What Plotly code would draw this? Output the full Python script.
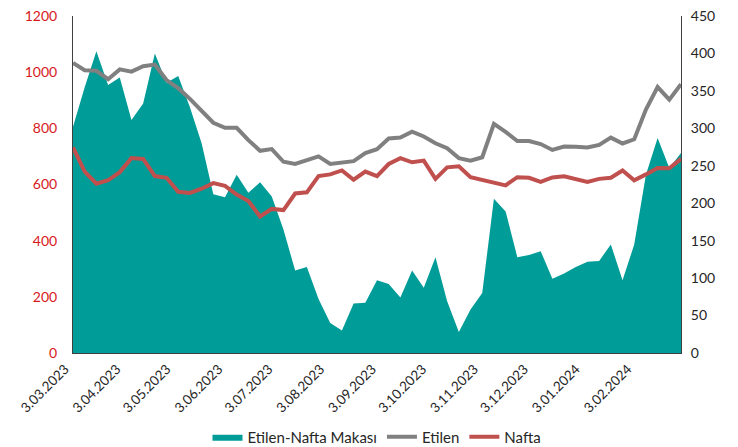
import plotly.graph_objects as go
import pandas as pd

dates = pd.date_range("2023-03-03", periods=53, freq="7D")

etilen = [1033, 1007, 1005, 975, 1010, 1002, 1021, 1027, 972, 943,
          905, 863, 820, 802, 802, 758, 720, 726, 681, 673,
          688, 700, 673, 677, 683, 712, 726, 764, 767, 788,
          771, 747, 729, 694, 685, 697, 816, 787, 755, 755,
          744, 723, 735, 734, 732, 741, 767, 746, 761, 867,
          947, 902, 957]

nafta = [732, 646, 603, 615, 644, 694, 691, 630, 624, 574,
         570, 585, 605, 595, 564, 541, 486, 513, 509, 568,
         572, 630, 636, 650, 617, 646, 630, 673, 694, 679,
         685, 620, 661, 665, 626, 617, 609, 597, 626, 624,
         609, 625, 629, 618, 609, 620, 624, 650, 615, 636,
         659, 658, 691]

makas = [302, 355, 403, 358, 368, 311, 333, 400, 361, 370,
         328, 280, 212, 208, 238, 214, 228, 209, 165, 110,
         115, 72, 40, 30, 66, 67, 97, 92, 74, 110,
         87, 128, 69, 28, 58, 80, 206, 189, 128, 131,
         136, 99, 106, 115, 122, 123, 145, 97, 145, 238,
         287, 247, 267]

tick_dates = pd.to_datetime(["2023-03-03", "2023-04-03", "2023-05-03", "2023-06-03",
                             "2023-07-03", "2023-08-03", "2023-09-03", "2023-10-03",
                             "2023-11-03", "2023-12-03", "2024-01-03", "2024-02-03"])
tick_labels = ["3.03.2023", "3.04.2023", "3.05.2023", "3.06.2023", "3.07.2023",
               "3.08.2023", "3.09.2023", "3.10.2023", "3.11.2023", "3.12.2023",
               "3.01.2024", "3.02.2024"]

FONT = "Lato"

fig = go.Figure()
fig.add_trace(go.Scatter(x=dates, y=makas, name="Etilen-Nafta Makası",
                         mode="lines", fill="tozeroy", line=dict(width=0, color="#009C98"),
                         fillcolor="#009C98", yaxis="y"))
fig.add_trace(go.Scatter(x=dates, y=etilen, name="Etilen", mode="lines",
                         line=dict(color="#808080", width=4), yaxis="y2"))
fig.add_trace(go.Scatter(x=dates, y=nafta, name="Nafta", mode="lines",
                         line=dict(color="#C0504D", width=4), yaxis="y2"))

# page body has an 8px margin, so the figure is sized/margined to land the plot at 73..681 x 16..353
fig.update_layout(
    width=730, height=439,
    margin=dict(l=65, r=57, t=8, b=94, autoexpand=False),
    plot_bgcolor="white", paper_bgcolor="white",
    font=dict(family=FONT, size=15, color="#262626"),
    showlegend=True,
    legend=dict(orientation="h", x=0.5, xanchor="center", y=-0.249, yanchor="middle",
                font=dict(size=15, color="#262626"), itemwidth=30, traceorder="normal"),
    xaxis=dict(type="date", range=[dates[0], dates[-1]], tickvals=tick_dates,
               ticktext=tick_labels, tickangle=-45, showgrid=False, automargin=False,
               showline=True, linecolor="#404040", linewidth=1, ticks="",
               ticklabelshift=-8, ticklabelstandoff=2,
               tickfont=dict(size=13.5, color="#262626"), zeroline=False),
    yaxis=dict(side="right", range=[0, 450], dtick=50, showgrid=False, automargin=False,
               showline=True, linecolor="#404040", linewidth=1, ticks="",
               ticklabelstandoff=6, ticklabeloverflow="allow",
               tickfont=dict(size=14, color="#262626"), zeroline=False),
    yaxis2=dict(side="left", overlaying="y", range=[0, 1200], dtick=200, automargin=False,
                showgrid=False, showline=True, linecolor="#404040", linewidth=1,
                ticks="", ticklabelstandoff=12, ticklabeloverflow="allow",
                tickfont=dict(size=14, color="#D7191C"), zeroline=False),
)

fig.write_html("out.html")
